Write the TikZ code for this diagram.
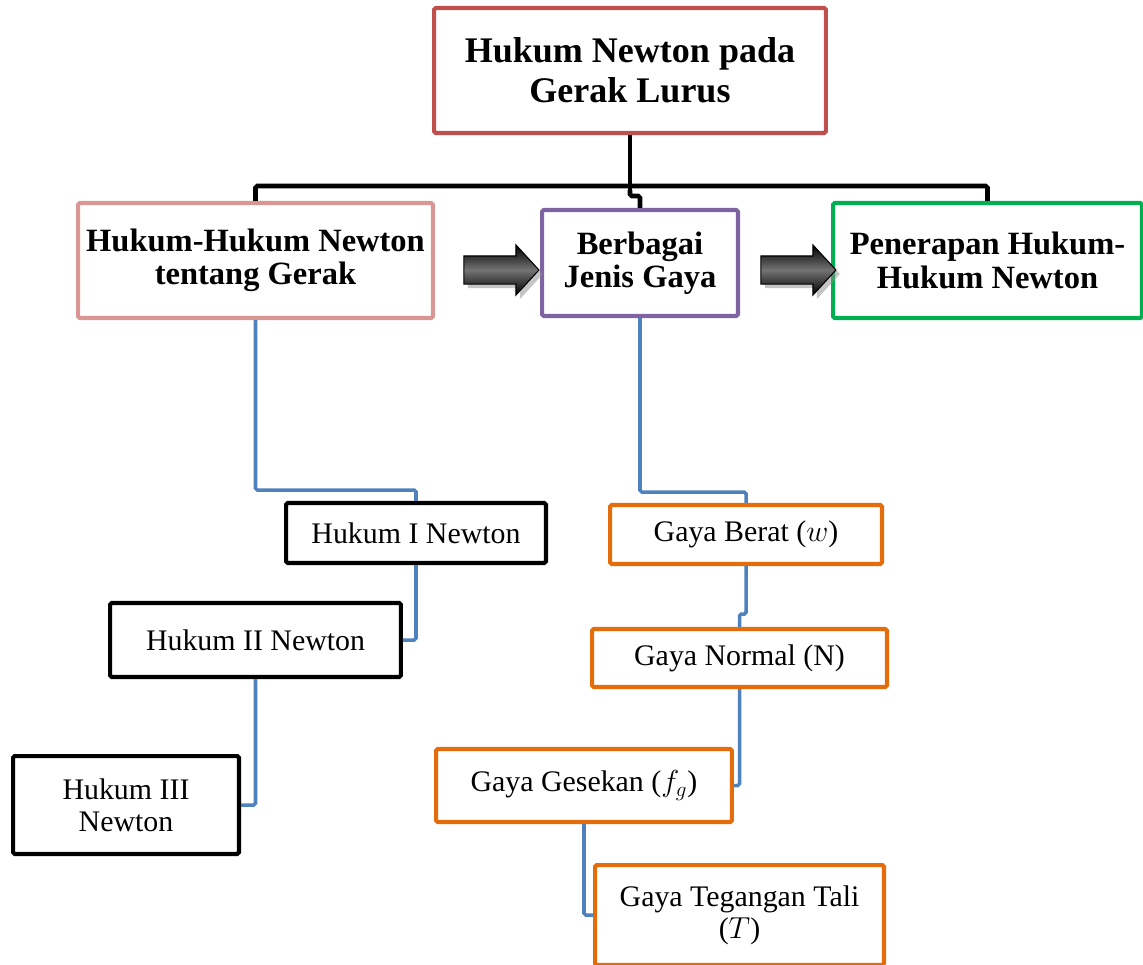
\documentclass[tikz,border=0pt]{standalone}
\usepackage{fontspec}
\setmainfont{Liberation Serif}
\usetikzlibrary{shapes.arrows,shadows}

\definecolor{headred}{HTML}{C0504D}
\definecolor{lawpink}{HTML}{D99694}
\definecolor{forcepurple}{HTML}{8064A2}
\definecolor{usegreen}{HTML}{00B050}
\definecolor{forceorange}{HTML}{E46C0A}
\definecolor{linkblue}{HTML}{4F81BD}

\begin{document}
\begin{tikzpicture}[x=0.02cm, y=-0.02cm,
	box/.style={draw, line width=2.3pt, rounded corners=1pt, fill=white, align=center, inner sep=0pt},
	bigbox/.style={box, font=\fontsize{18.5}{19}\selectfont\bfseries},
	smallbox/.style={box, font=\fontsize{17}{18}\selectfont},
	blocklink/.style={line width=2.6pt, rounded corners=1pt},
	bluelink/.style={draw=linkblue, line width=2pt, rounded corners=1pt},
	blockarrow/.style={single arrow, draw=black, line width=0.6pt, inner sep=0.27cm,
		minimum height=1.5cm, minimum width=0.98cm, single arrow head extend=0.22cm, single arrow tip angle=95,
		top color=black, bottom color=black, middle color=black!55,
		drop shadow={shadow xshift=0.08cm, shadow yshift=-0.08cm, fill=black!45}}]
	\useasboundingbox (0,0) rectangle (1143,964);

	% top level
	\node[bigbox, draw=headred, minimum width=7.84cm, minimum height=2.5cm,
		font=\fontsize{20.5}{22.8}\selectfont\bfseries] (main) at (630,70.5) {Hukum Newton pada\\Gerak Lurus};

	% second level
	\node[bigbox, draw=lawpink, minimum width=7.1cm, minimum height=2.3cm] (laws) at (255.5,260.5) {Hukum-Hukum Newton\\tentang Gerak};
	\node[bigbox, draw=forcepurple, minimum width=3.92cm, minimum height=2.12cm] (kinds) at (640,263) {Berbagai\\Jenis Gaya};
	\node[bigbox, draw=usegreen, minimum width=6.18cm, minimum height=2.3cm] (apply) at (987.5,260.5) {Penerapan Hukum-\\Hukum Newton};

	\node[blockarrow] (arrA) at (495,270) {};
	\node[blockarrow] (arrB) at (792,270) {};

	% laws of Newton
	\node[smallbox, minimum width=5.2cm, minimum height=1.2cm] (lawI) at (416,533) {Hukum I Newton};
	\node[smallbox, minimum width=5.82cm, minimum height=1.48cm] (lawII) at (255.5,640) {Hukum II Newton};
	\node[smallbox, minimum width=4.52cm, minimum height=1.96cm] (lawIII) at (126,805) {Hukum III\\Newton};

	% kinds of force
	\node[smallbox, draw=forceorange, minimum width=5.44cm, minimum height=1.18cm] (weight) at (746,534.5) {Gaya Berat ($w$)};
	\node[smallbox, draw=forceorange, minimum width=5.9cm, minimum height=1.16cm] (normal) at (739.5,658) {Gaya Normal (N)};
	\node[smallbox, draw=forceorange, minimum width=5.92cm, minimum height=1.46cm] (friction) at (584,785.5) {Gaya Gesekan ($f_g$)};
	\node[smallbox, draw=forceorange, minimum width=5.78cm, minimum height=2cm] (tension) at (739.5,915) {Gaya Tegangan Tali\\($T$)};

	% connectors
	\draw[blocklink] (laws.north) -- ++(0,-15) -| (apply.north);
	\draw[blocklink] (main.south) -- ++(0,55) coordinate (fork);
	\draw[blocklink] (fork) -- ++(0,6) -| (kinds.north);

	\draw[bluelink] (laws.south) -- ++(0,170) -| (lawI.north);
	\draw[bluelink] (lawI.south) |- (lawII.east);
	\draw[bluelink] (lawII.south) |- (lawIII.east);

	\draw[bluelink] (kinds.south) -- ++(0,174) -| (weight.north);
	\draw[bluelink] (weight.south) -- ++(0,48) -| (normal.north);
	\draw[bluelink] (normal.south) |- (friction.east);
	\draw[bluelink] (friction.south) |- (tension.west);
\end{tikzpicture}
\end{document}
